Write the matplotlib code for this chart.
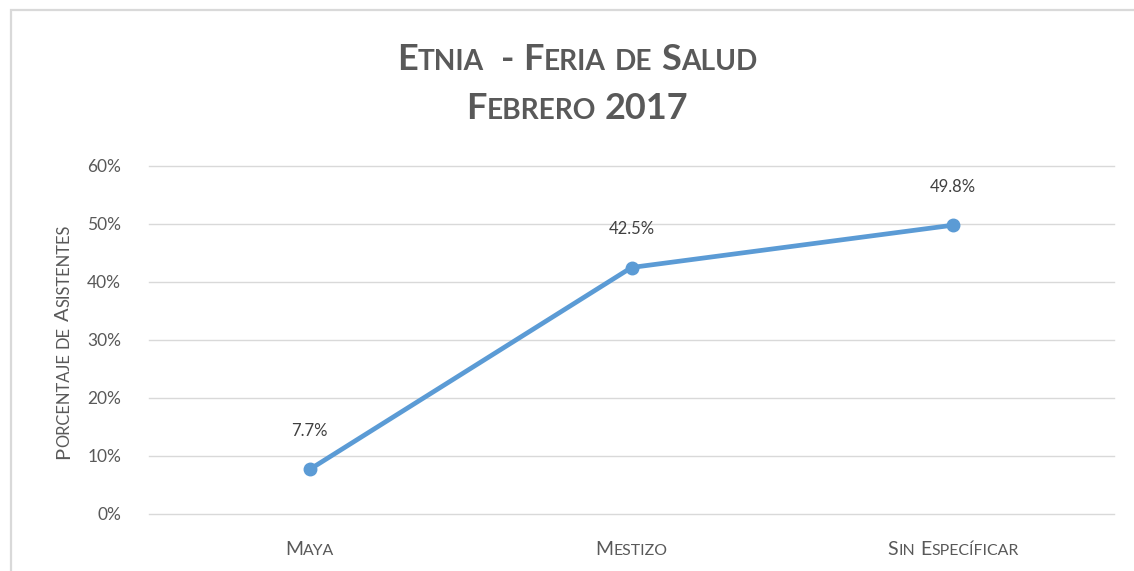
import matplotlib.pyplot as plt
from matplotlib.patches import Rectangle
from matplotlib.ticker import FuncFormatter

# data
categorias = ["Maya", "Mestizo", "Sin Específicar"]
porcentajes = [7.7, 42.5, 49.8]
etiquetas = ["7.7%", "42.5%", "49.8%"]
y_ticks = [0, 10, 20, 30, 40, 50, 60]

W, H = 1134, 571
FONT = "Lato"
GRIS = "#595959"


def runs_of(s):
    """split a word into runs of upper / lower letters"""
    out = []
    for ch in s:
        up = not ch.islower()
        if out and out[-1][1] == up:
            out[-1][0] += ch
        else:
            out.append([ch, up])
    return out


def small_caps(fig, x, y, s, size, color=GRIS, rotation=0, ratio=0.78, bold=False):
    """draw small caps text centred at pixel (x, y baseline)"""
    r = fig.canvas.get_renderer()
    weight = "bold" if bold else "normal"
    pieces = []
    for w in s.split(" "):
        pieces.append([(t.upper(), size if up else size * ratio) for t, up in runs_of(w)])

    def width(txt, sz):
        t = fig.text(0, 0, txt, fontsize=sz, family=FONT, weight=weight)
        wd = t.get_window_extent(r).width
        t.remove()
        return wd

    space = width("A A", size) - width("AA", size)
    widths = [[width(t, sz) for t, sz in p] for p in pieces]
    total = sum(sum(w) for w in widths) + space * (len(pieces) - 1)
    pos = -total / 2
    for p, ws in zip(pieces, widths):
        for (t, sz), wd in zip(p, ws):
            if rotation == 90:
                px, py = x, y - pos
            else:
                px, py = x + pos, y
            fig.text(px / W, 1 - py / H, t, fontsize=sz, family=FONT, weight=weight,
                     color=color, ha="left", va="baseline", rotation=rotation,
                     rotation_mode="anchor")
            pos += wd
        pos += space


fig = plt.figure(figsize=(W / 100, H / 100), dpi=100)
ax = fig.add_axes([149 / W, 1 - 514 / H, (1114 - 149) / W, (514 - 166) / H])

xs = [0.5, 1.5, 2.5]
ax.plot(xs, porcentajes, color="#5B9BD5", lw=3.4, marker="o", ms=9,
        solid_capstyle="round", zorder=3, clip_on=False)
for x, v, lab in zip(xs, porcentajes, etiquetas):
    ax.annotate(lab, (x, v), xytext=(0, 22), textcoords="offset points",
                ha="center", va="bottom", fontsize=12, family=FONT, color="#404040")

ax.set_xlim(0, 3)
ax.set_ylim(0, 60)
ax.set_yticks(y_ticks)
ax.yaxis.set_major_formatter(FuncFormatter(lambda v, p: f"{v:.0f}%"))
ax.set_xticks(xs)
ax.set_xticklabels([])
ax.tick_params(axis="y", length=0, pad=20, labelsize=12.5, labelcolor=GRIS)
ax.tick_params(axis="x", length=0)
for lab in ax.get_yticklabels():
    lab.set_family(FONT)
ax.grid(axis="y", color="#D9D9D9", lw=1)
for gl in ax.get_ygridlines():
    gl.set_clip_on(False)
ax.set_axisbelow(True)
for sp in ax.spines.values():
    sp.set_visible(False)

# chart border
fig.patches.append(Rectangle((11 / W, -0.1), 1.2, 1 - 10 / H + 0.1, transform=fig.transFigure,
                             fill=False, ec="#D9D9D9", lw=1.6))

fig.canvas.draw()
small_caps(fig, 577, 70, "Etnia  - Feria de Salud", 26, bold=True)
small_caps(fig, 577, 119, "Febrero 2017", 26, bold=True)
small_caps(fig, 69, 342, "Porcentaje de Asistentes", 14.5, rotation=90, ratio=0.82)
for x, c in zip(xs, categorias):
    px = ax.transData.transform((x, 0))[0]
    small_caps(fig, px, 555, c, 14, ratio=0.82)

fig.savefig("out.png", dpi=100)
